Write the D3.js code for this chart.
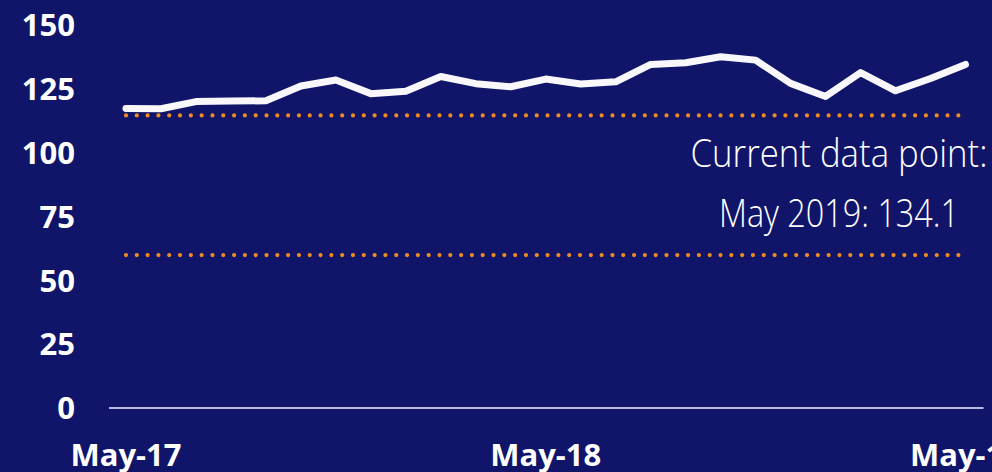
<!DOCTYPE html>
<html><head><meta charset="utf-8">
<script src="https://cdn.jsdelivr.net/npm/d3@7"></script>
<style>html,body{margin:0;padding:0;background:#10156a;overflow:hidden}</style>
</head><body><svg id="c" width="992" height="472"></svg>
<script>
const months = ["May-17","Jun-17","Jul-17","Aug-17","Sep-17","Oct-17","Nov-17","Dec-17","Jan-18","Feb-18","Mar-18","Apr-18",
  "May-18","Jun-18","Jul-18","Aug-18","Sep-18","Oct-18","Nov-18","Dec-18","Jan-19","Feb-19","Mar-19","Apr-19","May-19"];
const values = [116.9, 116.8, 119.6, 119.8, 119.9, 125.7, 128.0, 122.7, 123.6, 129.4, 126.6, 125.4,
  128.4, 126.5, 127.3, 134.1, 134.8, 137.1, 135.8, 126.7, 121.6, 130.9, 123.8, 128.6, 134.1];
const xTickLabels = ["May-17","May-18","May-19"];
const yTicks = [0, 25, 50, 75, 100, 125, 150];
const refLines = [114.2, 59.6];
const annotation = ["Current data point:", "May 2019: 134.1"];

const svg = d3.select("#c");
const x = d3.scaleBand().domain(months).range([108.5, 983]).padding(0);
const px = m => x(m) + x.bandwidth() / 2;
const y = d3.scaleLinear().domain([0, 150]).range([407.5, 23.8]);

// y axis
const ya = svg.append("g").attr("transform", "translate(75,1.5)")
  .call(d3.axisLeft(y).tickValues(yTicks).tickSize(0).tickPadding(0));
ya.select(".domain").remove();
ya.selectAll("text").attr("fill", "#ffffff")
  .style("font-family", "'Open Sans', 'Segoe UI', sans-serif").style("font-weight", 700).style("font-size", "31px");

// x axis
const xa = svg.append("g").attr("transform", "translate(0,407.5)")
  .call(d3.axisBottom(x).tickValues(xTickLabels).tickSize(0).tickSizeOuter(0).tickPadding(36));
xa.select(".domain").attr("stroke", "#b8b9e0").attr("stroke-width", 2);
xa.selectAll("text").attr("fill", "#ffffff")
  .style("font-family", "'Open Sans', 'Segoe UI', sans-serif").style("font-weight", 700).style("font-size", "31px");

// reference dotted lines
svg.append("g").selectAll("line").data(refLines).join("line")
  .attr("x1", px(months[0])).attr("x2", px(months[months.length - 1]))
  .attr("y1", d => y(d)).attr("y2", d => y(d))
  .attr("stroke", "#ee8c1f").attr("stroke-width", 4.2)
  .attr("stroke-linecap", "round").attr("stroke-dasharray", "0 10.81");

// main line
svg.append("path").datum(values)
  .attr("fill", "none").attr("stroke", "#f8f8fc").attr("stroke-width", 7)
  .attr("stroke-linecap", "round").attr("stroke-linejoin", "round")
  .attr("d", d3.line().x((d, i) => px(months[i])).y(d => y(d)));

// annotation
const ann = svg.append("g").selectAll("text").data(annotation).join("text")
  .attr("x", 839).attr("y", (d, i) => 167 + i * 60)
  .attr("text-anchor", "middle").attr("fill", "#ffffff")
  .style("font-family", "'Open Sans', 'Segoe UI', sans-serif").style("font-weight", 300).style("font-size", "39px")
  .text(d => d);
ann.attr("textLength", (d, i) => [297, 240][i]).attr("lengthAdjust", "spacingAndGlyphs");
</script></body></html>
